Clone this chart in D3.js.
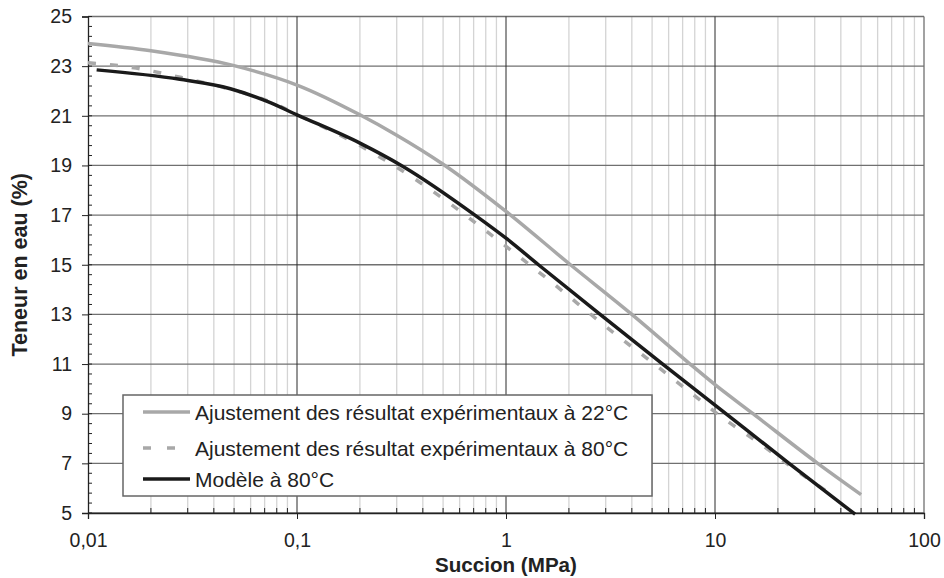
<!DOCTYPE html>
<html><head><meta charset="utf-8">
<script src="https://cdn.jsdelivr.net/npm/d3@7"></script>
<style>body{margin:0;background:#fff}svg{display:block;font-family:"Liberation Sans",Arial,sans-serif}</style>
</head><body><svg id="c" width="944" height="578"></svg>
<script>
const xTicks = [0.01, 0.1, 1, 10, 100];
const xTickLabels = ["0,01", "0,1", "1", "10", "100"];
const yTicks = [5, 7, 9, 11, 13, 15, 17, 19, 21, 23, 25];
const seriesNames = ["Ajustement des résultat expérimentaux à 22°C", "Ajustement des résultat expérimentaux à 80°C", "Modèle à 80°C"];
const s22x = [0.01, 0.02, 0.05, 0.1, 0.2, 0.3, 0.5, 1, 2, 4, 7.6, 10, 15.2, 31, 50];
const s22y = [23.91, 23.62, 23.02, 22.24, 21.04, 20.22, 19.05, 17.15, 15.05, 13.0, 11.0, 10.17, 9.0, 7.0, 5.74];
const s80x = [0.01, 0.017, 0.028, 0.046, 0.076, 0.1, 0.2, 0.367, 0.55, 0.82, 1.0, 1.51, 3.32, 4.98, 7.43, 10.9, 16.9, 20.8, 38];
const s80y = [23.14, 22.92, 22.54, 22.11, 21.53, 21.05, 19.8, 18.45, 17.41, 16.30, 15.74, 14.56, 12.22, 11.08, 9.93, 8.83, 7.72, 7.15, 5.61];
const modx = [0.011, 0.0275, 0.048, 0.072, 0.1, 0.2, 0.32, 0.71, 1, 1.43, 2.82, 5.62, 10, 22.6, 46.8];
const mody = [22.85, 22.47, 22.09, 21.58, 21.04, 19.9, 18.97, 17.0, 16.07, 15.0, 13.0, 11.0, 9.35, 7.0, 4.95];

const L = 88, R = 924, T = 16.5, B = 513;
const svg = d3.select("#c");
const x = d3.scaleLog().domain([0.01, 100]).range([L, R]);
const y = d3.scaleLinear().domain([5, 25]).range([B, T]);

// minor vertical grid
const minors = [];
for (let d = 0.01; d < 100; d *= 10) for (let k = 2; k <= 9; k++) minors.push(d * k);
svg.append("g").selectAll("line").data(minors).join("line")
  .attr("x1", d => x(d)).attr("x2", d => x(d)).attr("y1", T).attr("y2", B)
  .attr("stroke", "#d4d4d4").attr("stroke-width", 1.3);
// major horizontal grid
svg.append("g").selectAll("line").data(yTicks).join("line")
  .attr("x1", L).attr("x2", R).attr("y1", d => y(d)).attr("y2", d => y(d))
  .attr("stroke", "#707070").attr("stroke-width", 1.3);
// major vertical grid
svg.append("g").selectAll("line").data(xTicks.slice(1, 4)).join("line")
  .attr("x1", d => x(d)).attr("x2", d => x(d)).attr("y1", T).attr("y2", B)
  .attr("stroke", "#2a2a2a").attr("stroke-width", 1);
// right border
svg.append("line").attr("x1", R).attr("x2", R).attr("y1", T).attr("y2", B).attr("stroke", "#707070").attr("stroke-width", 1.3);

// y axis
const yMinor = d3.range(5, 25.001, 0.4);
svg.append("g").selectAll("line").data(yMinor).join("line")
  .attr("x1", L).attr("x2", L + 4).attr("y1", d => y(d)).attr("y2", d => y(d))
  .attr("stroke", "#222").attr("stroke-width", 1);
const yAxis = d3.axisLeft(y).tickValues(yTicks).tickSize(6).tickPadding(10).tickFormat(d3.format("d"));
const gy = svg.append("g").attr("transform", `translate(${L},0)`).call(yAxis);
gy.select(".domain").attr("stroke", "#222").attr("stroke-width", 1.3);
gy.selectAll(".tick line").attr("stroke", "#222");
gy.selectAll("text").attr("font-size", 19.5).attr("fill", "#222").attr("font-family", "Liberation Sans, Arial, sans-serif");

// x axis
svg.append("g").selectAll("line").data(minors).join("line")
  .attr("x1", d => x(d)).attr("x2", d => x(d)).attr("y1", B - 5).attr("y2", B)
  .attr("stroke", "#222").attr("stroke-width", 1);
const xAxis = d3.axisBottom(x).tickValues(xTicks).tickSize(6).tickPadding(14).tickFormat((d, i) => xTickLabels[i]);
const gx = svg.append("g").attr("transform", `translate(0,${B})`).call(xAxis);
gx.select(".domain").attr("stroke", "#222").attr("stroke-width", 1.3);
gx.selectAll(".tick line").attr("stroke", "#222");
gx.selectAll("text").attr("font-size", 19.5).attr("fill", "#222").attr("font-family", "Liberation Sans, Arial, sans-serif");

// titles
svg.append("text").attr("x", (L + R) / 2).attr("y", 572).attr("text-anchor", "middle")
  .attr("font-size", 20.6).attr("font-weight", "bold").attr("fill", "#222").text("Succion (MPa)");
svg.append("text").attr("transform", `translate(27,${(T + B) / 2}) rotate(-90)`).attr("text-anchor", "middle")
  .attr("font-size", 21.5).attr("font-weight", "bold").attr("fill", "#222").text("Teneur en eau (%)");

// curves
const line = d3.line().x(d => x(d[0])).y(d => y(d[1])).curve(d3.curveMonotoneX);
const zip = (a, b) => a.map((v, i) => [v, b[i]]);
const plot = svg.append("g");
plot.append("path").datum(zip(s80x, s80y)).attr("d", line).attr("fill", "none")
  .attr("stroke", "#a8a8a8").attr("stroke-width", 3.5).attr("stroke-dasharray", "8,14");
plot.append("path").datum(zip(s22x, s22y)).attr("d", line).attr("fill", "none")
  .attr("stroke", "#a8a8a8").attr("stroke-width", 3.5);
plot.append("path").datum(zip(modx, mody)).attr("d", line).attr("fill", "none")
  .attr("stroke", "#1a1a1a").attr("stroke-width", 3.5);

// legend
const lg = svg.append("g");
lg.append("rect").attr("x", 123).attr("y", 395).attr("width", 529).attr("height", 101)
  .attr("fill", "#fff").attr("stroke", "#666").attr("stroke-width", 1.5);
const styles = [
  { c: "#a8a8a8", dash: null, yy: 412 },
  { c: "#a8a8a8", dash: "8,16", yy: 448 },
  { c: "#1a1a1a", dash: null, yy: 479 }
];
seriesNames.forEach((n, i) => {
  const s = styles[i];
  const l = lg.append("line").attr("x1", 143).attr("x2", 190).attr("y1", s.yy).attr("y2", s.yy)
    .attr("stroke", s.c).attr("stroke-width", 3.5);
  if (s.dash) l.attr("stroke-dasharray", s.dash);
  lg.append("text").attr("x", 195).attr("y", s.yy + 7.5).attr("font-size", 21).attr("fill", "#222").text(n);
});
</script></body></html>
